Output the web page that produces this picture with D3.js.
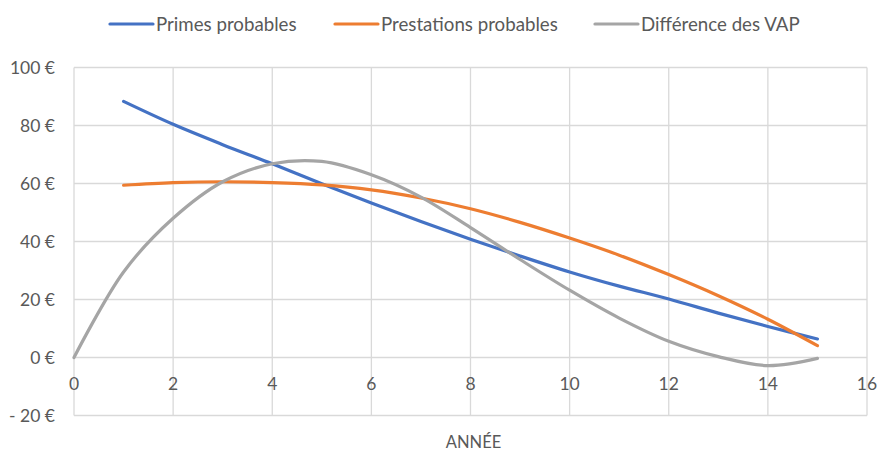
<!DOCTYPE html>
<html>
<head>
<meta charset="utf-8">
<script src="https://cdn.jsdelivr.net/npm/d3@7"></script>
<style>
  body { margin: 0; background: #fff; }
  text { font-family: Lato, "Open Sans", sans-serif; fill: #595959; }
</style>
</head>
<body>
<div id="chartDiv"></div>
<script>
  // values
  const years = [1, 2, 3, 4, 5, 6, 7, 8, 9, 10, 11, 12, 13, 14, 15];
  const primes = [88.3, 80.4, 73.4, 66.8, 59.9, 53.3, 46.9, 40.8, 35.0, 29.5, 24.6, 20.2, 15.3, 10.7, 6.4];
  const prestations = [59.4, 60.3, 60.6, 60.3, 59.5, 57.8, 55.0, 51.3, 46.6, 41.2, 35.3, 28.6, 21.3, 13.2, 4.1];
  const diffYears = [0, 1, 2, 3, 4, 5, 6, 7, 8, 9, 10, 11, 12, 13, 14, 15];
  const difference = [0, 29.5, 48.0, 60.6, 66.8, 67.6, 63.0, 55.3, 44.8, 33.8, 23.2, 13.6, 5.6, 0.3, -2.8, -0.3];
  const seriesNames = ["Primes probables", "Prestations probables", "Différence des VAP"];
  const colors = ["#4472C4", "#ED7D31", "#A5A5A5"];
  const xTicks = [0, 2, 4, 6, 8, 10, 12, 14, 16];
  const yTicks = [-20, 0, 20, 40, 60, 80, 100];

  const width = 881, height = 453;
  const margin = {top: 67.5, right: 14, bottom: 37.5, left: 74};

  const svg = d3.select("#chartDiv")
      .append("svg")
      .attr("width", width)
      .attr("height", height);

  const x = d3.scaleLinear().domain([0, 16]).range([margin.left, width - margin.right]);
  const y = d3.scaleLinear().domain([-20, 100]).range([height - margin.bottom, margin.top]);

  // grid
  svg.append("g")
      .selectAll("line")
      .data(xTicks)
      .enter()
      .append("line")
      .attr("x1", d => x(d)).attr("x2", d => x(d))
      .attr("y1", y(100)).attr("y2", y(-20))
      .style("stroke", "#D9D9D9").style("stroke-width", 1.3);
  svg.append("g")
      .selectAll("line")
      .data(yTicks)
      .enter()
      .append("line")
      .attr("y1", d => y(d)).attr("y2", d => y(d))
      .attr("x1", x(0)).attr("x2", x(16))
      .style("stroke", "#D9D9D9").style("stroke-width", 1.3);

  // y labels
  const fmt = d => (d < 0 ? "- " + Math.abs(d) : d) + " €";
  svg.append("g")
      .selectAll("text")
      .data(yTicks)
      .enter()
      .append("text")
      .attr("x", 55)
      .attr("y", d => y(d))
      .attr("dy", "0.35em")
      .attr("text-anchor", "end")
      .style("font-size", "17.5px")
      .text(fmt);

  // x labels (under the zero line)
  svg.append("g")
      .selectAll("text")
      .data(xTicks)
      .enter()
      .append("text")
      .attr("x", d => x(d))
      .attr("y", y(0) + 26.5)
      .attr("dy", "0.35em")
      .attr("text-anchor", "middle")
      .style("font-size", "17.5px")
      .text(d => d);

  svg.append("text")
      .attr("x", (x(0) + x(16)) / 2 + 3)
      .attr("y", 448)
      .attr("text-anchor", "middle")
      .style("font-size", "16.5px")
      .text("ANNÉE");

  // lines
  const line = d3.line()
      .x(d => x(d[0]))
      .y(d => y(d[1]))
      .curve(d3.curveCatmullRom.alpha(0.5));

  const series = [
      d3.zip(years, primes),
      d3.zip(years, prestations),
      d3.zip(diffYears, difference)
  ];
  series.forEach((s, i) => {
      svg.append("path")
          .datum(s)
          .attr("d", line)
          .style("fill", "none")
          .style("stroke", colors[i])
          .style("stroke-width", 3.2)
          .style("stroke-linecap", "round");
  });

  // legend
  const legendX = [110, 335, 595];
  const legend = svg.append("g");
  seriesNames.forEach((n, i) => {
      legend.append("line")
          .attr("x1", legendX[i]).attr("x2", legendX[i] + 43)
          .attr("y1", 24).attr("y2", 24)
          .style("stroke", colors[i])
          .style("stroke-width", 3.2)
          .style("stroke-linecap", "round");
      legend.append("text")
          .attr("x", legendX[i] + 46)
          .attr("y", 24)
          .attr("dy", "0.35em")
          .style("font-size", "18.7px")
          .text(n);
  });
</script>
</body>
</html>
